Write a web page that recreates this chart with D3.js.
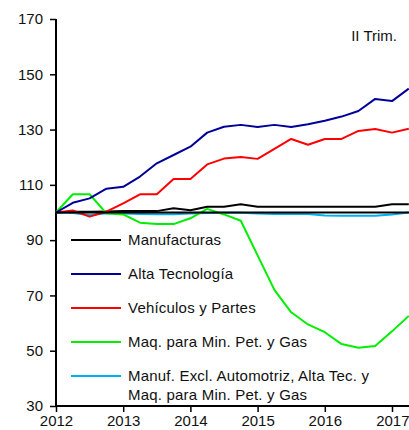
<!DOCTYPE html>
<html>
<head>
<meta charset="utf-8">
<script src="https://cdn.jsdelivr.net/npm/d3@7"></script>
<style>
  html, body { margin: 0; padding: 0; background: #fff; }
  svg { display: block; font-family: "Liberation Sans", Arial, sans-serif; }
</style>
</head>
<body>
<svg id="chart" width="409" height="430"></svg>
<script>
// Quarterly index, 2012 Q1 = 100 (2012.00 .. 2017.25)
const quarters = d3.range(0, 22).map(i => 2012 + i * 0.25);
const manufacturas = [100, 100.3, 100.3, 100.4, 100.5, 100.5, 100.5, 101.5, 100.8, 102.1, 102.1, 103.0, 102.1, 102.1, 102.1, 102.1, 102.1, 102.1, 102.1, 102.1, 103.0, 103.0];
const altaTecnologia = [100, 103.5, 105.1, 108.6, 109.3, 113.0, 117.8, 120.8, 123.8, 128.9, 131.0, 131.7, 130.9, 131.7, 130.9, 131.9, 133.2, 134.7, 136.7, 141.1, 140.3, 144.8];
const vehiculos = [100, 100.7, 98.5, 100.3, 103.3, 106.6, 106.6, 112.1, 112.1, 117.4, 119.5, 120.1, 119.4, 123.0, 126.6, 124.5, 126.6, 126.6, 129.5, 130.2, 128.9, 130.3];
const maquinaria = [100, 106.6, 106.6, 99.7, 99.3, 96.3, 95.8, 95.8, 97.9, 101.3, 99.3, 97.0, 84.5, 72.0, 63.9, 59.5, 56.7, 52.4, 51.1, 51.7, 57.0, 62.6];
const manufExcl = [100, 99.8, 99.1, 99.7, 99.6, 99.5, 99.4, 99.4, 99.6, 99.8, 99.9, 99.9, 99.6, 99.5, 99.5, 99.5, 98.9, 98.8, 98.8, 98.8, 99.3, 100];
const yTicks = [30, 50, 70, 90, 110, 130, 150, 170];
const xTicks = [2012, 2013, 2014, 2015, 2016, 2017];
const legendLabels = [
  ["Manufacturas"],
  ["Alta Tecnología"],
  ["Vehículos y Partes"],
  ["Maq. para Min. Pet. y Gas"],
  ["Manuf. Excl. Automotriz, Alta Tec. y", "Maq. para Min. Pet. y Gas"]
];
const annotation = "II Trim.";

const colors = ["#000000", "#000099", "#ff0000", "#00ee00", "#00b0f0"];
const seriesList = [manufacturas, altaTecnologia, vehiculos, maquinaria, manufExcl];

const svg = d3.select("#chart");
const x = d3.scaleLinear().domain([2012, 2017.25]).range([56, 408.8]);
const y = d3.scaleLinear().domain([30, 170]).range([406, 19]);

// Axes
const yAxis = d3.axisLeft(y).tickValues(yTicks).tickSize(6).tickPadding(7).tickFormat(d3.format("d"));
const gy = svg.append("g").attr("transform", `translate(${x.range()[0]},0)`).call(yAxis);
const xAxis = d3.axisBottom(x).tickValues(xTicks).tickSize(6).tickPadding(3).tickFormat(d3.format("d"));
const gx = svg.append("g").attr("transform", `translate(0,${y.range()[0]})`).call(xAxis);
[gx, gy].forEach(g => {
  g.select(".domain").attr("stroke", "#000").attr("stroke-width", 2);
  g.selectAll(".tick line").attr("stroke", "#000").attr("stroke-width", 1.5);
  g.selectAll("text").attr("fill", "#111").style("font-size", "15px").style("font-family", "'Liberation Sans', Arial, sans-serif");
});
gy.select(".domain").attr("d", `M0,${y.range()[1]}V${y.range()[0]}`);
gx.select(".domain").attr("d", `M${x.range()[0]},0H409`);
// keep the last year label inside the frame
gx.selectAll(".tick text").filter(d => d === 2017).attr("text-anchor", "end").attr("x", 409 - x(2017));

// Series lines
const line = d3.line().x((d, i) => x(quarters[i])).y(d => y(d));
const drawOrder = [4, 0, 3, 2, 1];
drawOrder.forEach(k => {
  svg.append("path").datum(seriesList[k])
    .attr("fill", "none").attr("stroke", colors[k]).attr("stroke-width", 2)
    .attr("stroke-linejoin", "round").attr("d", line);
});

// Reference line at 100
svg.append("line").attr("x1", x.range()[0]).attr("x2", 409)
  .attr("y1", y(100)).attr("y2", y(100)).attr("stroke", "#000").attr("stroke-width", 2);

// Legend
const lg = svg.append("g");
legendLabels.forEach((lines, i) => {
  const ly = 240 + i * 34;
  lg.append("line").attr("x1", 71).attr("x2", 121).attr("y1", ly).attr("y2", ly)
    .attr("stroke", colors[i]).attr("stroke-width", 2);
  lines.forEach((t, j) => {
    lg.append("text").attr("x", 128).attr("y", ly + j * 19).attr("dy", "0.35em")
      .attr("fill", "#111").style("font-size", "15px").style("letter-spacing", "0.2px").text(t);
  });
});

// Annotation
svg.append("text").attr("x", 397).attr("y", 36).attr("dy", "0.35em").attr("text-anchor", "end")
  .attr("fill", "#111").style("font-size", "15px").text(annotation);
</script>
</body>
</html>
